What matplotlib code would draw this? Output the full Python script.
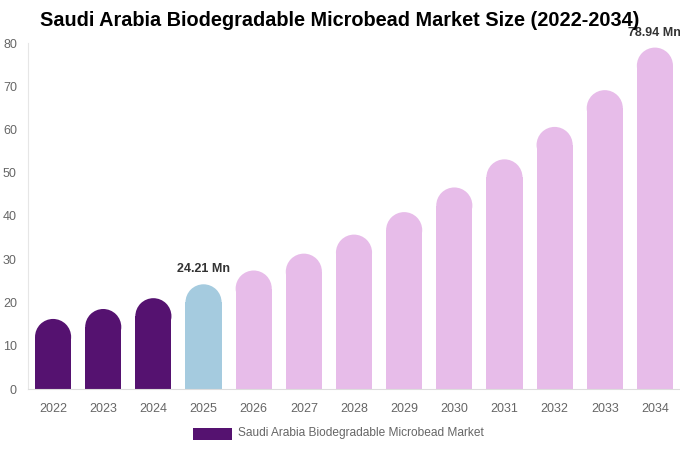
import matplotlib
matplotlib.use('Agg')
import matplotlib.pyplot as plt
import matplotlib.patches as patches

plt.rcParams['font.family'] = ['Liberation Sans', 'DejaVu Sans']

years = ['2022', '2023', '2024', '2025', '2026', '2027', '2028',
         '2029', '2030', '2031', '2032', '2033', '2034']
values = [16.2, 18.5, 21.0, 24.21, 27.4, 31.3, 35.7, 40.9, 46.6, 53.1, 60.6, 69.1, 78.94]
labels = {3: '24.21 Mn', 12: '78.94 Mn'}

dark = '#551270'
blue = '#a5cbdf'
pink = '#e7bce9'
colors = [dark] * 3 + [blue] + [pink] * 9

W, H = 680, 450
fig = plt.figure(figsize=(W / 100, H / 100), dpi=100)
left, right, bottom, top = 28 / W, 680 / W, (H - 389) / H, (H - 43) / H
ax = fig.add_axes([left, bottom, right - left, top - bottom])

ymax = 80
ax.set_xlim(-0.5, len(years) - 0.5)
ax.set_ylim(0, ymax)

bar_w = 0.72
# cap radius in y data units so the top looks like a half circle
px_per_x = (right - left) * W / len(years)
px_per_y = (top - bottom) * H / ymax
r_px = bar_w * px_per_x / 2
r_y = r_px / px_per_y

for i, (v, c) in enumerate(zip(values, colors)):
    ax.bar(i, v - r_y, width=bar_w, color=c, linewidth=0)
    ax.add_patch(patches.Ellipse((i, v - r_y), bar_w, 2 * r_y, facecolor=c, linewidth=0))
    if i in labels:
        ax.text(i, v + 2.1, labels[i], ha='center', va='bottom', fontsize=9,
                fontweight='bold', color='#333333')

ax.set_xticks(range(len(years)))
ax.set_xticklabels(years)
ax.set_yticks(range(0, 81, 10))
ax.tick_params(axis='both', length=0, labelsize=9, labelcolor='#666666')
ax.tick_params(axis='x', pad=10)
ax.tick_params(axis='y', pad=8)
for s in ['top', 'right']:
    ax.spines[s].set_visible(False)
ax.spines['left'].set_color('#e6e6e6')
ax.spines['bottom'].set_color('#dddddd')

fig.text(340 / W, 1 - 21 / H, 'Saudi Arabia Biodegradable Microbead Market Size (2022-2034)',
         ha='center', va='center', fontsize=14.3, fontweight='bold', color='#000000')

fig.patches.append(patches.Rectangle((193 / W, 1 - 440 / H), 39 / W, 12 / H,
                                     transform=fig.transFigure, facecolor=dark, linewidth=0))
fig.text(238 / W, 1 - 433 / H, 'Saudi Arabia Biodegradable Microbead Market',
         ha='left', va='center', fontsize=8.6, color='#666666')

fig.savefig('out.png', dpi=100)
